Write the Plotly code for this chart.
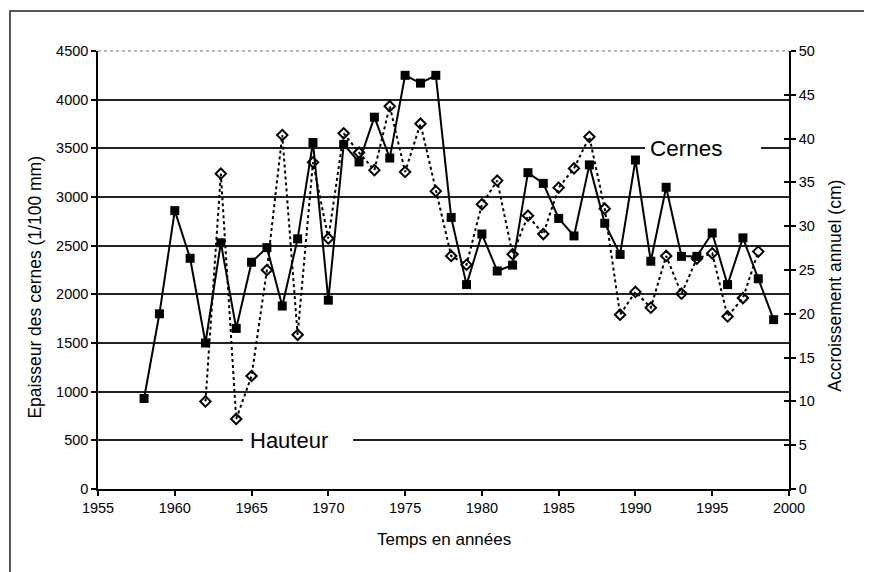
import plotly.graph_objects as go

years_cernes = list(range(1958, 2000))
cernes = [930, 1800, 2860, 2370, 1500, 2530, 1650, 2330, 2480, 1880,
          2570, 3560, 1940, 3540, 3360, 3820, 3400, 4250, 4170, 4250,
          2790, 2100, 2620, 2240, 2300, 3250, 3140, 2780, 2600, 3330,
          2730, 2410, 3380, 2340, 3100, 2390, 2390, 2630, 2100, 2580,
          2160, 1740]

years_hauteur = list(range(1962, 1999))
hauteur = [10.0, 36.0, 8.0, 12.9, 25.0, 40.4, 17.6, 37.3, 28.6, 40.6,
           38.4, 36.4, 43.7, 36.2, 41.7, 34.0, 26.6, 25.6, 32.5, 35.2,
           26.8, 31.2, 29.1, 34.4, 36.6, 40.2, 32.0, 19.9, 22.5, 20.7,
           26.6, 22.3, 26.3, 26.9, 19.7, 21.8, 27.1]

x_ticks = [1955, 1960, 1965, 1970, 1975, 1980, 1985, 1990, 1995, 2000]
y_ticks = [0, 500, 1000, 1500, 2000, 2500, 3000, 3500, 4000, 4500]
y2_ticks = [0, 5, 10, 15, 20, 25, 30, 35, 40, 45, 50]

FONT = "Arial, Liberation Sans, Helvetica, sans-serif"
TICK = 14.5

fig = go.Figure()
fig.add_trace(go.Scatter(
    x=years_hauteur, y=hauteur, yaxis="y2", mode="lines+markers",
    name="Hauteur",
    line=dict(color="black", width=2, dash="dot"),
    marker=dict(symbol="diamond-open", size=8, color="black",
                line=dict(color="black", width=2)),
))
fig.add_trace(go.Scatter(
    x=years_cernes, y=cernes, mode="lines+markers", name="Cernes",
    line=dict(color="black", width=2),
    marker=dict(symbol="square", size=9, color="black"),
))
# invisible trace to host inside ticks on the right axis
fig.add_trace(go.Scatter(x=[None], y=[None], yaxis="y3", showlegend=False))

fig.update_layout(
    width=864, height=564, autosize=False,
    margin=dict(l=90, r=83, t=43, b=83),
    paper_bgcolor="white", plot_bgcolor="white",
    showlegend=False,
    font=dict(family=FONT, size=TICK, color="black"),
    xaxis=dict(range=[1955, 2000], tickvals=x_ticks, ticks="outside",
               ticklen=5, tickwidth=1.5, tickcolor="black",
               showline=True, linecolor="black", linewidth=2,
               showgrid=False, zeroline=False,
               tickfont=dict(size=TICK)),
    yaxis=dict(range=[0, 4500], tickvals=y_ticks, ticks="outside",
               ticklen=5, tickwidth=1.5, tickcolor="black",
               showline=True, linecolor="black", linewidth=1.5,
               showgrid=True, gridcolor="#222222", gridwidth=1.7,
               zeroline=False, tickfont=dict(size=TICK)),
    yaxis2=dict(range=[0, 50], tickvals=y2_ticks, overlaying="y",
                side="right", ticks="outside", ticklen=5, tickwidth=1.5,
                tickcolor="black", showline=True, linecolor="black",
                linewidth=1.5, showgrid=False, zeroline=False,
                tickfont=dict(size=TICK)),
    yaxis3=dict(range=[0, 50], tickvals=y2_ticks, overlaying="y",
                side="right", ticks="inside", ticklen=5, tickwidth=1.5,
                tickcolor="black", showticklabels=False, showline=False,
                showgrid=False, zeroline=False),
)

shapes = [
    # outer frame
    dict(type="rect", xref="paper", yref="paper", x0=-0.1274, x1=1.1143,
         y0=-0.6, y1=1.0913, line=dict(color="#222222", width=1.5),
         layer="below"),
    # top border of plot area (dotted)
    dict(type="line", xref="paper", yref="paper", x0=0, x1=1, y0=1, y1=1,
         line=dict(color="#777777", width=1.2, dash="dot")),
    # white boxes behind the labels, interrupting the grid lines
    dict(type="rect", xref="x", yref="y", x0=1990.62, x1=1998.18,
         y0=3380, y1=3620, fillcolor="white", line=dict(width=0),
         layer="between"),
    dict(type="rect", xref="x", yref="y", x0=1964.44, x1=1971.61,
         y0=380, y1=620, fillcolor="white", line=dict(width=0),
         layer="between"),
]

annotations = [
    dict(text="Cernes", x=1993.3, y=3500, xref="x", yref="y",
         showarrow=False, font=dict(size=22.5), xanchor="center",
         yanchor="middle"),
    dict(text="Hauteur", x=1967.44, y=500, xref="x", yref="y",
         showarrow=False, font=dict(size=22), xanchor="center",
         yanchor="middle"),
    dict(text="Temps en années", x=0.501, y=-0.1164, xref="paper",
         yref="paper", showarrow=False, font=dict(size=17),
         xanchor="center", yanchor="middle"),
    dict(text="Epaisseur des cernes (1/100 mm)", x=-0.0904, y=0.461,
         xref="paper", yref="paper", showarrow=False, textangle=-90,
         font=dict(size=17.5), xanchor="center", yanchor="middle"),
    dict(text="Accroissement annuel (cm)", x=1.0665, y=0.464,
         xref="paper", yref="paper", showarrow=False, textangle=-90,
         font=dict(size=17.5), xanchor="center", yanchor="middle"),
]

fig.update_layout(shapes=shapes, annotations=annotations)
fig.write_html("out.html")
